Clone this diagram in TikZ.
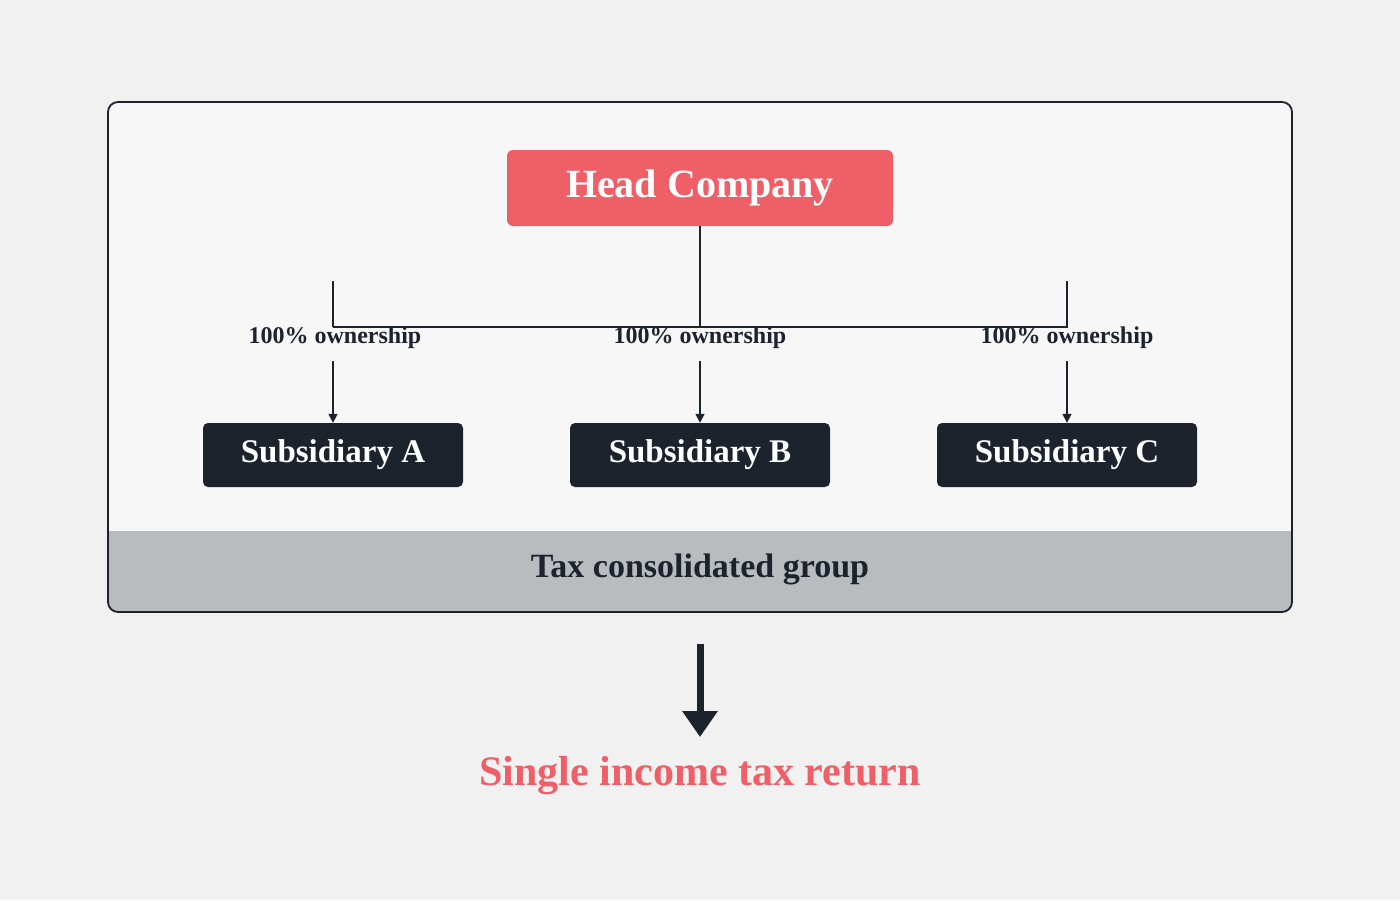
\documentclass[tikz,border=0pt]{standalone}
\usepackage{fontspec}
\setmainfont{Liberation Serif}
\usetikzlibrary{arrows.meta}
\definecolor{bg}{HTML}{F1F1F1}
\definecolor{redc}{HTML}{EF5F67}
\definecolor{darkc}{HTML}{1C232D}
\definecolor{band}{HTML}{B8BCBF}
\tikzset{
 subbox/.style={fill=darkc,rounded corners=5pt,minimum width=260pt,minimum height=64pt,text=white,font=\fontsize{33}{36}\selectfont\bfseries,inner sep=0pt},
 own/.style={font=\fontsize{24}{26}\selectfont\bfseries,text=darkc,inner sep=0pt},
 conn/.style={draw=darkc,line width=1.6pt},
 arr/.style={conn,-{Triangle[length=9pt,width=9pt]}}
}
\begin{document}
\begin{tikzpicture}[x=1pt,y=-1pt]
\fill[bg] (0,0) rectangle (1400,900);
\useasboundingbox (0,0) rectangle (1400,900);
\begin{scope}
\clip[rounded corners=10pt] (108,102) rectangle (1292,612);
\fill[white!40!bg] (108,102) rectangle (1292,531);
\fill[band] (108,531) rectangle (1292,612);
\end{scope}
\draw[darkc,line width=1.8pt,rounded corners=10pt] (108,102) rectangle (1292,612);
\node[fill=redc,rounded corners=6pt,minimum width=386pt,minimum height=76pt,text=white,font=\fontsize{40}{44}\selectfont\bfseries,inner sep=0pt] (head) at (700,188) {Head Company};
\node[subbox] (sa) at (333,455) {Subsidiary A};
\node[subbox] (sb) at (700,455) {Subsidiary B};
\node[subbox] (sc) at (1067,455) {Subsidiary C};
\node[own] (la) at (335,338) {100\% ownership};
\node[own] (lb) at (700,338) {100\% ownership};
\node[own] (lc) at (1067,338) {100\% ownership};
\coordinate (j) at (700,272);
\draw[conn] (head.south) -- (j);
\draw[conn] (la.north -| sa) |- (lc.north -| sc) -- ++(0,-46);
\draw[conn] (j) -- (lb.north);
\draw[conn] (la.north -| sa) -- ++(0,-46);
\draw[arr] (la.south -| sa) ++(0,12) -- (sa.north);
\draw[arr] (lb.south -| sb) ++(0,12) -- (sb.north);
\draw[arr] (lc.south -| sc) ++(0,12) -- (sc.north);
\node[font=\fontsize{34}{38}\selectfont\bfseries,text=darkc] (grp) at (700,569) {Tax consolidated group};
\node[font=\fontsize{42}{46}\selectfont\bfseries,text=redc] (ret) at (700,776) {Single income tax return};
\coordinate (as) at (700,644);
\draw[darkc,line width=7pt,-{Triangle[length=26pt,width=34pt]}] (as) -- (700,737);
\end{tikzpicture}
\end{document}
